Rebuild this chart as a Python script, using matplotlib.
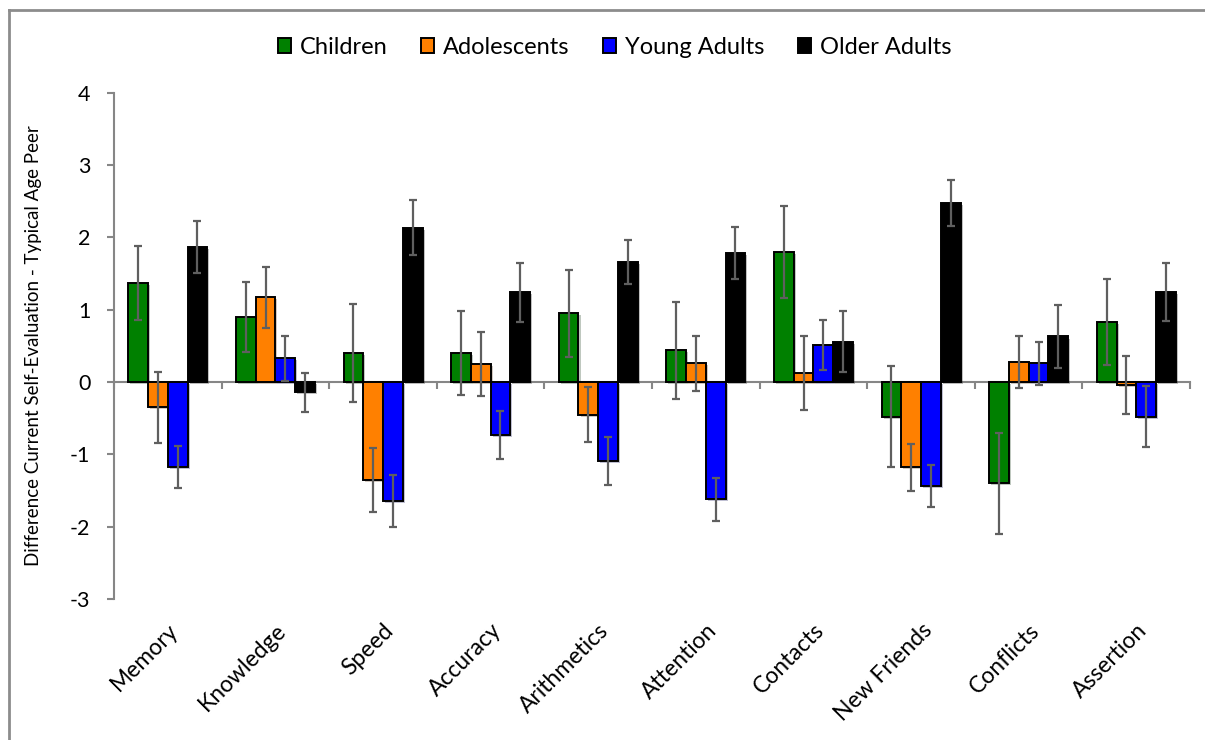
"""
Self-evaluation gap (current self vs. typical age peer) across ten domains,
split by age group, with standard-error bars.
"""

import matplotlib.pyplot as plt
import matplotlib.patches as mpatches
import matplotlib.patheffects as pe
from matplotlib.lines import Line2D
import numpy as np

plt.rcParams["font.family"] = ["Lato", "DejaVu Sans"]

# ── data ──────────────────────────────────────────────────────────────────────
domains = ["Memory", "Knowledge", "Speed", "Accuracy", "Arithmetics",
           "Attention", "Contacts", "New Friends", "Conflicts", "Assertion"]
groups = ["Children", "Adolescents", "Young Adults", "Older Adults"]

children = [1.37, 0.90, 0.40, 0.40, 0.95, 0.44, 1.80, -0.48, -1.40, 0.83]
adolescents = [-0.35, 1.17, -1.35, 0.25, -0.45, 0.26, 0.12, -1.18, 0.28, -0.04]
young_adults = [-1.18, 0.33, -1.64, -0.73, -1.09, -1.62, 0.51, -1.44, 0.26, -0.48]
older_adults = [1.87, -0.14, 2.13, 1.24, 1.66, 1.78, 0.56, 2.48, 0.63, 1.24]

children_err = [0.51, 0.49, 0.68, 0.58, 0.60, 0.67, 0.64, 0.70, 0.70, 0.59]
adolescents_err = [0.49, 0.42, 0.44, 0.44, 0.38, 0.38, 0.51, 0.33, 0.36, 0.40]
young_adults_err = [0.29, 0.31, 0.36, 0.33, 0.33, 0.30, 0.35, 0.29, 0.30, 0.42]
older_adults_err = [0.36, 0.27, 0.38, 0.41, 0.30, 0.36, 0.42, 0.32, 0.43, 0.40]

# ── style ─────────────────────────────────────────────────────────────────────
COLORS = ["#008000", "#FF8000", "#0000FF", "#000000"]
AXIS_GRAY = "#868686"
ERR_GRAY = "#5f5f5f"

series = [children, adolescents, young_adults, older_adults]
errors = [children_err, adolescents_err, young_adults_err, older_adults_err]

fig = plt.figure(figsize=(12.05, 7.4), dpi=100)
ax = fig.add_axes([0.0946, 0.1905, 0.893, 0.6842])

x = np.arange(len(domains))
width = 0.1835
shadow = [pe.SimplePatchShadow(offset=(1.5, -1.5), alpha=0.25), pe.Normal()]

for i, (vals, errs, color) in enumerate(zip(series, errors, COLORS)):
    pos = x + (i - 1.5) * width
    bars = ax.bar(pos, vals, width, color=color, edgecolor="black",
                  linewidth=1.4, zorder=2, label=groups[i])
    for b in bars:
        b.set_path_effects(shadow)
    ax.errorbar(pos, vals, yerr=errs, fmt="none", ecolor=ERR_GRAY,
                elinewidth=1.6, capsize=3, capthick=1.6, zorder=3)

# y axis
ax.set_ylim(-3, 4)
ax.set_yticks(range(-3, 5))
ax.set_yticklabels([str(v) for v in range(-3, 5)], fontsize=15.5)
ax.set_xlim(-0.5, len(domains) - 0.5)
ax.spines["left"].set_color(AXIS_GRAY)
ax.spines["left"].set_linewidth(1.5)
ax.tick_params(axis="y", direction="out", length=5, width=1.5,
               color=AXIS_GRAY, pad=12)
ax.set_ylabel("Difference Current Self-Evaluation - Typical Age Peer",
              fontsize=13.5, labelpad=20)

# zero line with category-boundary ticks
ax.spines["bottom"].set_position(("data", 0))
ax.spines["bottom"].set_color(AXIS_GRAY)
ax.spines["bottom"].set_linewidth(1.5)
ax.spines["bottom"].set_zorder(1)
ax.spines["top"].set_visible(False)
ax.spines["right"].set_visible(False)
ax.set_xticks(np.arange(len(domains) + 1) - 0.5)
ax.set_xticklabels([])
ax.tick_params(axis="x", direction="out", length=5, width=1.5,
               color=AXIS_GRAY)

# category labels sit below the plot area
sec = ax.secondary_xaxis(0)
sec.set_xticks(x)
sec.set_xticklabels(domains, fontsize=16.5, rotation=45, ha="right",
                    rotation_mode="anchor")
sec.tick_params(axis="x", length=0, pad=15)
sec.spines["bottom"].set_visible(False)

# legend
handles = [mpatches.Patch(facecolor=c, edgecolor="black", linewidth=1.4,
                          label=g) for c, g in zip(COLORS, groups)]
fig.legend(handles=handles, loc="center", ncol=4, frameon=False,
           bbox_to_anchor=(0.51, 0.936), fontsize=17, handlelength=0.55,
           handleheight=0.55, handletextpad=0.4, columnspacing=1.4)

# outer frame (top and left edges)
fig.add_artist(Line2D([9 / 1205, 1], [1 - 10 / 740, 1 - 10 / 740],
                      color="#8c8c8c", linewidth=2, transform=fig.transFigure))
fig.add_artist(Line2D([9 / 1205, 9 / 1205], [0, 1 - 10 / 740],
                      color="#8c8c8c", linewidth=2, transform=fig.transFigure))

fig.savefig("out.png", dpi=100)
